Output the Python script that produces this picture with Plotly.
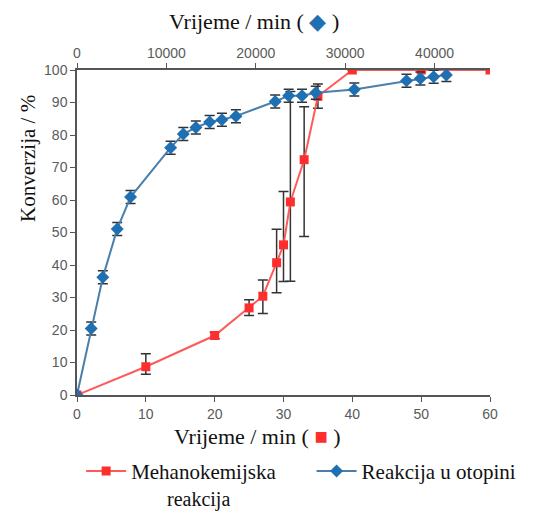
import plotly.graph_objects as go

# Mechanochemical reaction (bottom axis, minutes)
mech_time = [0, 10, 20, 25, 27, 29, 30, 31, 33, 35, 40, 50, 60]
mech_conv = [0, 8.7, 18.3, 26.8, 30.4, 40.7, 46.2, 59.4, 72.4, 91.9, 100, 100, 100]
mech_err_plus = [0, 4.0, 1.0, 2.5, 5.0, 10.3, 16.4, 34.0, 16.3, 3.8, 0, 0, 0]
mech_err_minus = [0, 2.3, 1.0, 2.3, 5.3, 9.2, 11.3, 24.4, 23.6, 3.7, 0, 0, 0]

# Solution reaction (top axis, minutes)
sol_time = [0, 1590, 2890, 4500, 5990, 10470, 11890, 13300, 14840, 16210, 17780,
            22170, 23680, 25170, 26710, 31020, 36860, 38410, 39900, 41320]
sol_conv = [0, 20.5, 36.2, 51.1, 60.9, 76.1, 80.3, 82.3, 84.0, 84.7, 85.8,
            90.3, 92.1, 92.1, 93.0, 94.0, 96.7, 97.4, 97.9, 98.5]
sol_err = [0, 2, 2, 2, 2, 2, 2, 2, 2, 2, 2, 2, 2, 2, 2, 2, 2, 2, 2, 2]

bottom_ticks = [0, 10, 20, 30, 40, 50, 60]
top_ticks = [0, 10000, 20000, 30000, 40000]
top_labels = ["0", "10000", "20000", "30000", "40000"]
y_ticks = [0, 10, 20, 30, 40, 50, 60, 70, 80, 90, 100]

serif = "'Liberation Serif', 'Times New Roman', serif"
sans = "'Liberation Sans', Arial, sans-serif"
tick_font = dict(family=sans, size=14, color="#5a5a5a")
axis_col = "#555555"
leg_font = dict(family=serif, size=21, color="#111")

fig = go.Figure()

fig.add_trace(go.Scatter(
    x=sol_time, y=sol_conv, xaxis="x2", yaxis="y",
    mode="lines+markers", name="Reakcija u otopini", legend="legend2",
    line=dict(color="#4a7fab", width=2),
    marker=dict(symbol="diamond", size=10, color="#1f70b3"),
    error_y=dict(type="data", array=sol_err, color="#333333", thickness=1.5, width=5),
))

fig.add_trace(go.Scatter(
    x=mech_time, y=mech_conv, xaxis="x", yaxis="y",
    mode="lines+markers", name="Mehanokemijska", legend="legend",
    line=dict(color="#ff5a5a", width=2),
    marker=dict(symbol="square", size=9, color="#ff2e2e"),
    error_y=dict(type="data", symmetric=False, array=mech_err_plus,
                 arrayminus=mech_err_minus, color="#333333", thickness=1.5, width=5),
))

fig.update_layout(
    width=525, height=507,
    margin=dict(l=69, r=43, t=62, b=120, autoexpand=False),
    paper_bgcolor="white", plot_bgcolor="white",
    showlegend=True,
    legend=dict(orientation="h", x=0.01, y=-0.172, xanchor="left", yanchor="top",
                font=leg_font, itemwidth=40, bgcolor="rgba(0,0,0,0)"),
    legend2=dict(orientation="h", x=0.568, y=-0.172, xanchor="left", yanchor="top",
                 font=leg_font, itemwidth=40, bgcolor="rgba(0,0,0,0)"),
    xaxis=dict(range=[0, 60], tickvals=bottom_ticks, showline=True, linecolor=axis_col,
               linewidth=1.5, ticks="outside", ticklen=5, tickcolor=axis_col,
               showgrid=False, zeroline=False, tickfont=tick_font),
    xaxis2=dict(range=[0, 46200], tickvals=top_ticks, ticktext=top_labels,
                overlaying="x", side="top",
                showline=True, linecolor=axis_col, linewidth=1.5, ticks="outside",
                ticklen=5, tickcolor=axis_col, showgrid=False, zeroline=False,
                tickfont=tick_font),
    yaxis=dict(range=[0, 100], tickvals=y_ticks, showline=True, linecolor=axis_col,
               linewidth=1.5, ticks="outside", ticklen=5, tickcolor=axis_col,
               showgrid=False, zeroline=False, tickfont=tick_font),
    annotations=[
        dict(text="Vrijeme / min ( <span style='color:#1f70b3'>◆</span> )",
             xref="paper", yref="paper", x=0.429, y=1.148, xanchor="center", yanchor="middle",
             showarrow=False, font=dict(family=serif, size=22, color="#111")),
        dict(text="Vrijeme / min ( <span style='color:#ff2e2e'>■</span> )",
             xref="paper", yref="paper", x=0.438, y=-0.129, xanchor="center", yanchor="middle",
             showarrow=False, font=dict(family=serif, size=22, color="#111")),
        dict(text="Konverzija / %", textangle=-90,
             xref="paper", yref="paper", x=-0.119, y=0.729, xanchor="center", yanchor="middle",
             showarrow=False, font=dict(family=serif, size=21, color="#111")),
        dict(text="reakcija",
             xref="paper", yref="paper", x=0.213, y=-0.323, xanchor="left", yanchor="middle",
             showarrow=False, font=dict(family=serif, size=20, color="#111")),
    ],
)

fig.write_html("out.html")
